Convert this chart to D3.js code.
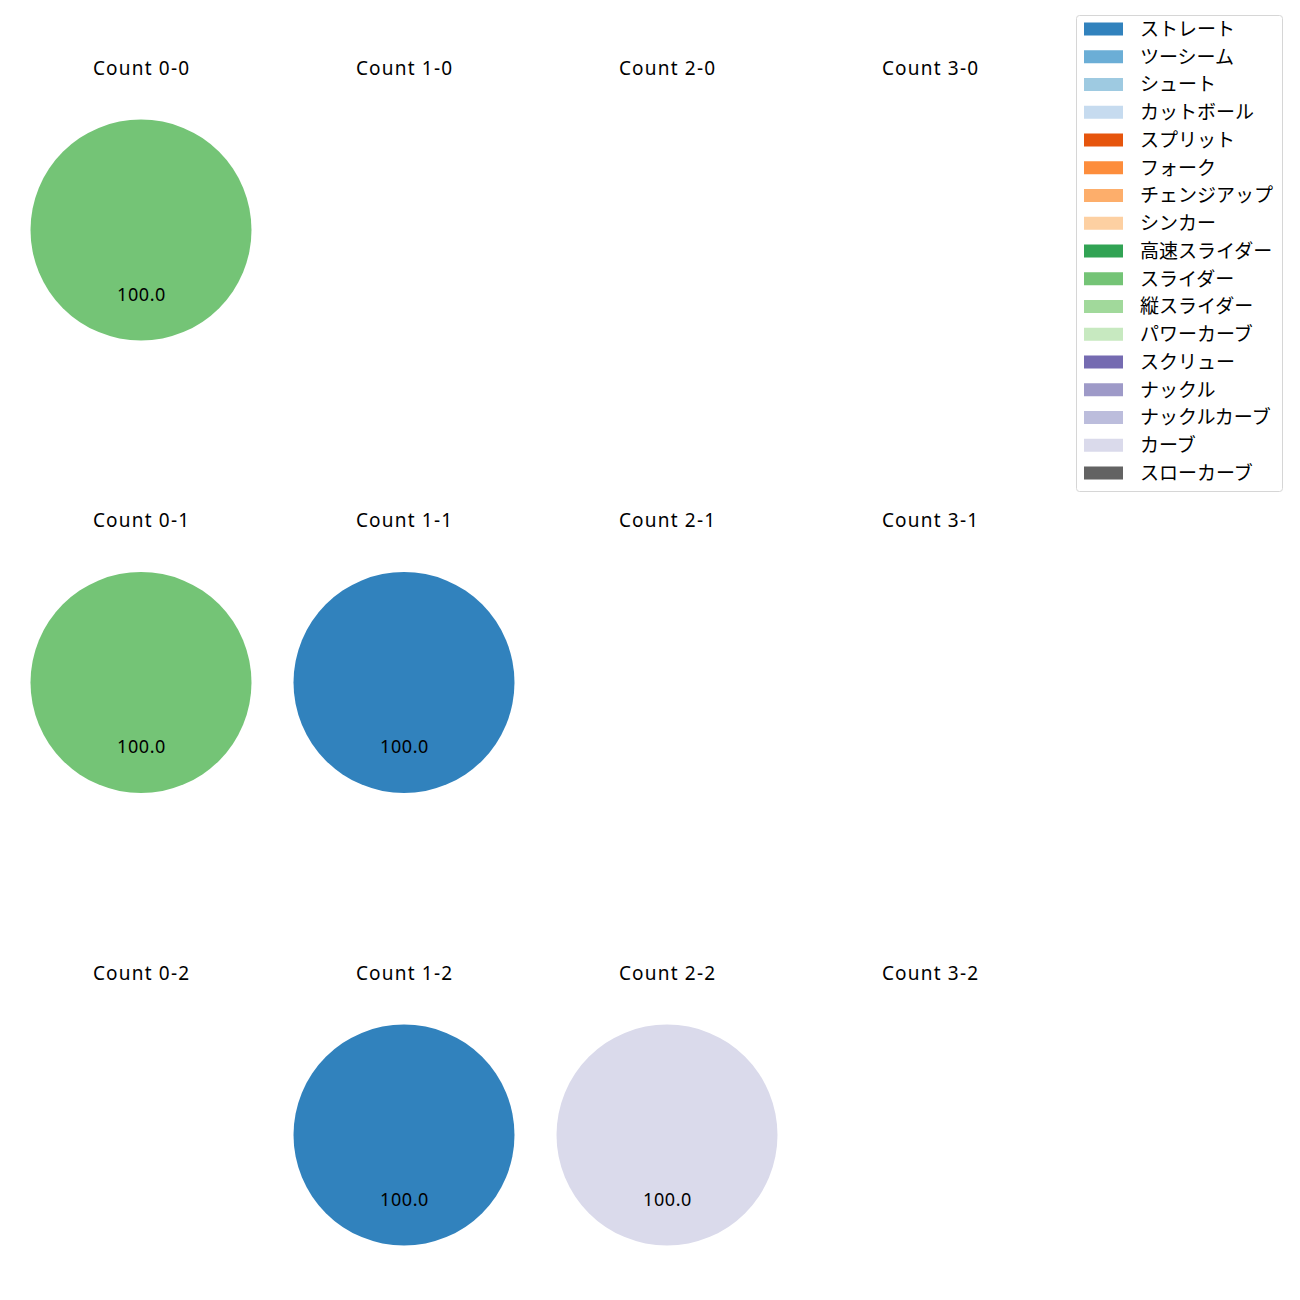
<!DOCTYPE html>
<html><head><meta charset="utf-8">
<script src="https://cdn.jsdelivr.net/npm/d3@7"></script>
<style>body{margin:0;background:#fff}svg{display:block}text{font-family:"Noto Sans","Noto Sans CJK JP",sans-serif}</style>
</head><body><svg id="c" width="1300" height="1300"></svg>
<script>
const pitchTypes = ["ストレート","ツーシーム","シュート","カットボール","スプリット","フォーク","チェンジアップ","シンカー","高速スライダー","スライダー","縦スライダー","パワーカーブ","スクリュー","ナックル","ナックルカーブ","カーブ","スローカーブ"];
const pitchColors = ["#3182bd","#6baed6","#9ecae1","#c6dbef","#e6550d","#fd8d3c","#fdae6b","#fdd0a2","#31a354","#74c476","#a1d99b","#c7e9c0","#756bb1","#9e9ac8","#bcbddc","#dadaeb","#636363"];
const balls = [0,1,2,3];
const strikes = [0,1,2];
// values per count cell: [balls, strikes, pitchType, percentage]
const cellBalls   = [0, 0, 1, 1, 2];
const cellStrikes = [0, 1, 1, 2, 2];
const cellPitch   = ["スライダー","スライダー","ストレート","ストレート","カーブ"];
const cellValue   = [100.0, 100.0, 100.0, 100.0, 100.0];

const svg = d3.select("#c");
const color = d3.scaleOrdinal().domain(pitchTypes).range(pitchColors);
const xPos = d3.scalePoint().domain(balls).range([141, 930]);
const yPos = d3.scalePoint().domain(strikes).range([230, 1135]);
const r = 110.5;
// start at the bottom-left like matplotlib startangle=90, counterclockwise
const pie = d3.pie().sort(null).value(d => d.v).startAngle(0).endAngle(-2*Math.PI);
const arc = d3.arc().innerRadius(0).outerRadius(r);

strikes.forEach(s => {
  balls.forEach(b => {
    const cx = xPos(b), cy = yPos(s);
    const g = svg.append("g").attr("transform", `translate(${cx},${cy})`);
    g.append("text").attr("x", 0.6).attr("y", -155.5).attr("text-anchor","middle")
      .attr("font-size", 19).attr("letter-spacing", 1.2).attr("fill","#000").text(`Count ${b}-${s}`);
    const data = [];
    cellBalls.forEach((cb, i) => {
      if (cb === b && cellStrikes[i] === s) data.push({k: cellPitch[i], v: cellValue[i]});
    });
    if (!data.length) return;
    const arcs = pie(data);
    g.selectAll("path").data(arcs).join("path").attr("d", arc).attr("fill", d => color(d.data.k));
    g.selectAll("text.lbl").data(arcs).join("text").attr("class","lbl")
      .attr("x", d => { const a = (d.startAngle + d.endAngle)/2; return 0.6*r*Math.sin(a) + 0.5; })
      .attr("y", d => { const a = (d.startAngle + d.endAngle)/2; return -0.6*r*Math.cos(a); })
      .attr("dy", "0.24em").attr("text-anchor","middle").attr("font-size", 18).attr("letter-spacing", 0.6)
      .attr("fill","#000").text(d => d.data.v.toFixed(1));
  });
});

// legend
const lg = svg.append("g");
lg.append("rect").attr("x", 1076.5).attr("y", 15.5).attr("width", 206).attr("height", 476)
  .attr("rx", 3).attr("fill","#fff").attr("stroke","#d6d6d6");
const ly = d3.scalePoint().domain(pitchTypes).range([29, 473]);
pitchTypes.forEach(p => {
  lg.append("rect").attr("x", 1084).attr("y", ly(p) - 6.5).attr("width", 39).attr("height", 13).attr("fill", color(p));
  lg.append("text").attr("x", 1140).attr("y", ly(p)).attr("dy","0.36em").attr("font-size", 19).attr("fill","#000").text(p);
});
</script></body></html>
